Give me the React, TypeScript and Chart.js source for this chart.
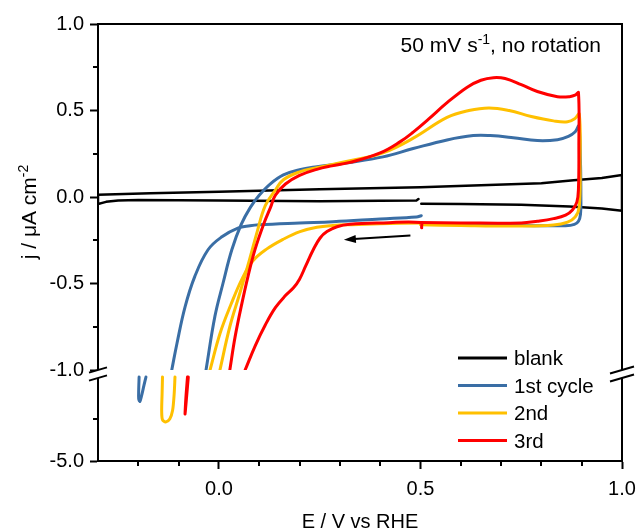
import React, { useEffect, useRef } from 'react';
import { Chart, registerables } from 'chart.js';

Chart.register(...registerables);

const FONT = "'Liberation Sans', Arial, Helvetica, sans-serif";

// Axis ranges and ticks
const xMin = -0.3;
const xMax = 1.0;
const xMajorTicks = [0.0, 0.5, 1.0];
const xTickLabels = ['0.0', '0.5', '1.0'];
const xMinorTicks = [-0.2, -0.1, 0.1, 0.2, 0.3, 0.4, 0.6, 0.7, 0.8, 0.9];

const yMin = -1.0;
const yMax = 1.0;
const yMajorTicks = [-1.0, -0.5, 0.0, 0.5, 1.0];
const yTickLabels = ['-1.0', '-0.5', '0.0', '0.5', '1.0'];
const yMinorTicks = [-0.75, -0.25, 0.25, 0.75];

// lower (broken) part of the current axis
const yLowMin = -5.0;
const yLowMax = -2.833;
const yLowMajorTicks = [-5.0];
const yLowTickLabels = ['-5.0'];
const yLowMinorTicks = [-4.0];

// blank electrode: start at 0.5 V, cathodic to -0.3 V, anodic to 1.0 V, back to 0.5 V
const blankE = [0.495, 0.49, 0.4, 0.25, 0.0, -0.2, -0.25, -0.28, -0.3, -0.3, -0.17, 0.0, 0.25, 0.5, 0.65, 0.8, 0.88, 0.95, 1.0, 1.0, 0.95, 0.87, 0.75, 0.6, 0.502];
const blankJ = [-0.012, -0.02, -0.022, -0.025, -0.02, -0.017, -0.02, -0.028, -0.04, 0.013, 0.022, 0.03, 0.045, 0.057, 0.068, 0.08, 0.097, 0.11, 0.127, -0.08, -0.067, -0.055, -0.045, -0.04, -0.039];

// 1st cycle
const c1CathE = [0.502, 0.49, 0.4, 0.283, 0.2, 0.1, 0.077, 0.047, 0.0075, -0.027, -0.06, -0.084, -0.104, -0.117];
const c1CathJ = [-0.108, -0.115, -0.127, -0.143, -0.15, -0.16, -0.166, -0.18, -0.23, -0.305, -0.46, -0.635, -0.845, -1.0];
const c1LowE = [-0.181, -0.186, -0.192, -0.196, -0.199, -0.199, -0.198];
const c1LowJ = [-3.0, -3.2, -3.45, -3.58, -3.52, -3.3, -3.0];
const c1AnodE = [-0.032, -0.01, 0.01, 0.032, 0.055, 0.078, 0.1, 0.127, 0.16, 0.2, 0.243, 0.325, 0.407, 0.482, 0.566, 0.631, 0.673, 0.73, 0.79, 0.84, 0.867, 0.884, 0.893, 0.897, 0.898, 0.897, 0.892, 0.882, 0.86, 0.75, 0.6, 0.5];
const c1AnodJ = [-1.0, -0.69, -0.5, -0.305, -0.16, -0.06, 0.01, 0.075, 0.128, 0.158, 0.175, 0.2, 0.232, 0.28, 0.33, 0.355, 0.355, 0.343, 0.326, 0.331, 0.35, 0.377, 0.41, 0.2, 0.0, -0.1, -0.14, -0.158, -0.166, -0.165, -0.16, -0.155];

// 2nd cycle
const c2CathE = [0.5, 0.4, 0.33, 0.283, 0.243, 0.201, 0.159, 0.119, 0.084, 0.058, 0.03, 0.0025, -0.022];
const c2CathJ = [-0.15, -0.155, -0.16, -0.165, -0.175, -0.2, -0.245, -0.3, -0.37, -0.47, -0.62, -0.79, -1.0];
const c2LowE = [-0.109, -0.111, -0.115, -0.122, -0.132, -0.14, -0.142, -0.141, -0.14];
const c2LowJ = [-3.0, -3.4, -3.8, -4.0, -4.07, -4.02, -3.8, -3.4, -3.0];
const c2AnodE = [0.0025, 0.027, 0.052, 0.075, 0.095, 0.115, 0.14, 0.16, 0.2, 0.243, 0.325, 0.407, 0.482, 0.566, 0.62, 0.67, 0.72, 0.775, 0.83, 0.865, 0.884, 0.894, 0.896, 0.894, 0.884, 0.865, 0.83, 0.75, 0.6, 0.5];
const c2AnodJ = [-1.0, -0.75, -0.555, -0.37, -0.2, -0.05, 0.04, 0.1, 0.145, 0.17, 0.21, 0.255, 0.34, 0.46, 0.5, 0.515, 0.5, 0.465, 0.44, 0.435, 0.455, 0.48, 0.2, -0.055, -0.115, -0.145, -0.162, -0.168, -0.165, -0.16];

// 3rd cycle
const c3CathE = [0.503, 0.501, 0.408, 0.325, 0.293, 0.268, 0.251, 0.234, 0.215, 0.2, 0.185, 0.165, 0.14, 0.115, 0.09, 0.065];
const c3CathJ = [-0.178, -0.148, -0.15, -0.158, -0.172, -0.2, -0.237, -0.305, -0.4, -0.475, -0.525, -0.57, -0.64, -0.74, -0.86, -1.0];
const c3LowE = [-0.076, -0.08, -0.084, -0.082, -0.078];
const c3LowJ = [-3.0, -3.45, -3.88, -3.5, -3.0];
const c3AnodE = [0.027, 0.04, 0.057, 0.072, 0.09, 0.112, 0.128, 0.14, 0.165, 0.2, 0.243, 0.28, 0.325, 0.4, 0.45, 0.482, 0.52, 0.566, 0.616, 0.65, 0.681, 0.71, 0.75, 0.79, 0.84, 0.87, 0.885, 0.892, 0.893, 0.892, 0.888, 0.877, 0.86, 0.83, 0.79, 0.75, 0.6, 0.5];
const c3AnodJ = [-1.0, -0.81, -0.615, -0.46, -0.3, -0.15, -0.06, 0.01, 0.075, 0.125, 0.16, 0.18, 0.2, 0.255, 0.32, 0.375, 0.45, 0.545, 0.635, 0.675, 0.69, 0.685, 0.65, 0.61, 0.58, 0.58, 0.59, 0.603, 0.3, 0.05, -0.03, -0.075, -0.105, -0.125, -0.14, -0.15, -0.15, -0.148];

// scan direction arrow (E, j)
const arrowFromE = 0.475;
const arrowFromJ = -0.222;
const arrowToE = 0.31;
const arrowToJ = -0.247;

const seriesNames = ['blank', '1st cycle', '2nd', '3rd'];
const seriesColors = ['#000000', '#3a6ea5', '#ffc000', '#ff0000'];

const pts = (e: number[], j: number[]) => e.map((v, i) => ({ x: v, y: j[i] }));

const lineSet = (data: { x: number; y: number }[], color: string, axis: string, width: number, tension: number) => ({
  data,
  yAxisID: axis,
  borderColor: color,
  backgroundColor: color,
  borderWidth: width,
  pointRadius: 0,
  showLine: true,
  fill: false,
  tension,
  borderCapStyle: 'round' as const,
  borderJoinStyle: 'round' as const,
});

const decorPlugin = {
  id: 'cvDecor',
  afterDraw(chart: any) {
    const ctx: CanvasRenderingContext2D = chart.ctx;
    const { left, right, top, bottom } = chart.chartArea;
    const xs = chart.scales.x;
    const ys = chart.scales.y;
    const yl = chart.scales.yLow;
    ctx.save();
    ctx.strokeStyle = '#000';
    ctx.fillStyle = '#000';
    ctx.lineWidth = 2;
    ctx.lineCap = 'butt';

    // frame: top and right edges
    ctx.beginPath();
    ctx.moveTo(left - 1, top);
    ctx.lineTo(right, top);
    ctx.lineTo(right, bottom + 1);
    ctx.stroke();

    // minor ticks
    ctx.beginPath();
    xMinorTicks.forEach((v) => {
      const px = Math.round(xs.getPixelForValue(v));
      ctx.moveTo(px, bottom);
      ctx.lineTo(px, bottom + 5);
    });
    yMinorTicks.forEach((v) => {
      const py = Math.round(ys.getPixelForValue(v));
      ctx.moveTo(left, py);
      ctx.lineTo(left - 5, py);
    });
    yLowMinorTicks.forEach((v) => {
      const py = Math.round(yl.getPixelForValue(v));
      ctx.moveTo(left, py);
      ctx.lineTo(left - 5, py);
    });
    ctx.stroke();

    // axis break marks on both vertical edges
    const yb = ys.bottom;
    const marks = [
      { ax: left, hw: 9 },
      { ax: right, hw: 12 },
    ];
    marks.forEach(({ ax, hw }) => {
      const dy = hw * 0.29;
      ctx.fillStyle = '#fff';
      ctx.beginPath();
      ctx.moveTo(ax - hw, yb + dy);
      ctx.lineTo(ax + hw, yb - dy);
      ctx.lineTo(ax + hw, yb - dy + 8);
      ctx.lineTo(ax - hw, yb + dy + 8);
      ctx.closePath();
      ctx.fill();
      ctx.beginPath();
      ctx.moveTo(ax - hw, yb + dy);
      ctx.lineTo(ax + hw, yb - dy);
      ctx.moveTo(ax - hw, yb + dy + 8);
      ctx.lineTo(ax + hw, yb - dy + 8);
      ctx.stroke();
    });

    // scan direction arrow
    const ax0 = xs.getPixelForValue(arrowFromE);
    const ay0 = ys.getPixelForValue(arrowFromJ);
    const ax1 = xs.getPixelForValue(arrowToE);
    const ay1 = ys.getPixelForValue(arrowToJ);
    const ang = Math.atan2(ay1 - ay0, ax1 - ax0);
    const headLen = 12;
    const headHalf = 4;
    ctx.fillStyle = '#000';
    ctx.beginPath();
    ctx.moveTo(ax0, ay0);
    ctx.lineTo(ax1 - Math.cos(ang) * (headLen - 2), ay1 - Math.sin(ang) * (headLen - 2));
    ctx.stroke();
    ctx.beginPath();
    ctx.moveTo(ax1, ay1);
    ctx.lineTo(ax1 - Math.cos(ang) * headLen - Math.sin(ang) * headHalf, ay1 - Math.sin(ang) * headLen + Math.cos(ang) * headHalf);
    ctx.lineTo(ax1 - Math.cos(ang) * headLen + Math.sin(ang) * headHalf, ay1 - Math.sin(ang) * headLen - Math.cos(ang) * headHalf);
    ctx.closePath();
    ctx.fill();

    // text with a superscript part
    const drawSup = (x: number, y: number, size: number, parts: [string, boolean][], align: 'left' | 'right' | 'center') => {
      const big = `${size}px ${FONT}`;
      const small = `${Math.round(size * 0.65)}px ${FONT}`;
      let w = 0;
      parts.forEach(([t, sup]) => {
        ctx.font = sup ? small : big;
        w += ctx.measureText(t).width;
      });
      let cx = align === 'left' ? x : align === 'right' ? x - w : x - w / 2;
      ctx.textAlign = 'left';
      ctx.textBaseline = 'alphabetic';
      parts.forEach(([t, sup]) => {
        ctx.font = sup ? small : big;
        ctx.fillText(t, cx, sup ? y - size * 0.4 : y);
        cx += ctx.measureText(t).width;
      });
    };

    ctx.fillStyle = '#000';
    drawSup(601, 52, 21, [['50 mV s', false], ['-1', true], [', no rotation', false]], 'right');

    // axis titles
    drawSup((left + right) / 2, 528, 20, [['E / V vs RHE', false]], 'center');
    ctx.save();
    ctx.translate(36, 212);
    ctx.rotate(-Math.PI / 2);
    drawSup(0, 0, 21, [['j / \u03bcA cm', false], ['-2', true]], 'center');
    ctx.restore();

    // legend
    const legX = 458;
    const legY = 358;
    const legStep = 27.5;
    seriesNames.forEach((name, i) => {
      const yy = legY + i * legStep;
      ctx.strokeStyle = seriesColors[i];
      ctx.lineWidth = 3;
      ctx.beginPath();
      ctx.moveTo(legX, yy);
      ctx.lineTo(legX + 49, yy);
      ctx.stroke();
      ctx.fillStyle = '#000';
      ctx.font = `20.5px ${FONT}`;
      ctx.textAlign = 'left';
      ctx.textBaseline = 'alphabetic';
      ctx.fillText(name, legX + 56, yy + 7);
    });
    ctx.restore();
  },
};

export default function App() {
  const ref = useRef<HTMLCanvasElement | null>(null);

  useEffect(() => {
    if (!ref.current) return;
    const datasets = [
      lineSet(pts(c3CathE, c3CathJ), seriesColors[3], 'y', 3, 0.4),
      lineSet(pts(c3LowE, c3LowJ), seriesColors[3], 'yLow', 3, 0.3),
      lineSet(pts(c3AnodE, c3AnodJ), seriesColors[3], 'y', 3, 0.4),
      lineSet(pts(c2CathE, c2CathJ), seriesColors[2], 'y', 3, 0.4),
      lineSet(pts(c2LowE, c2LowJ), seriesColors[2], 'yLow', 3, 0.3),
      lineSet(pts(c2AnodE, c2AnodJ), seriesColors[2], 'y', 3, 0.4),
      lineSet(pts(c1CathE, c1CathJ), seriesColors[1], 'y', 3, 0.4),
      lineSet(pts(c1LowE, c1LowJ), seriesColors[1], 'yLow', 3, 0.3),
      lineSet(pts(c1AnodE, c1AnodJ), seriesColors[1], 'y', 3, 0.4),
      lineSet(pts(blankE, blankJ), seriesColors[0], 'y', 2.5, 0),
    ];

    const tickFont = { family: FONT, size: 20 };
    const chart = new Chart(ref.current, {
      type: 'scatter',
      data: { datasets },
      options: {
        animation: false,
        responsive: false,
        devicePixelRatio: 1,
        layout: { padding: { left: 0, right: 16, top: 24, bottom: 0 } },
        plugins: { legend: { display: false }, tooltip: { enabled: false } },
        scales: {
          x: {
            type: 'linear',
            min: xMin,
            max: xMax,
            afterBuildTicks: (axis: any) => {
              axis.ticks = xMajorTicks.map((v) => ({ value: v }));
            },
            afterFit: (axis: any) => {
              axis.height = 70;
              axis.paddingLeft = 0;
              axis.paddingRight = 0;
            },
            ticks: {
              autoSkip: false,
              maxRotation: 0,
              padding: 8,
              color: '#000',
              font: tickFont,
              callback: (_v: any, i: number) => xTickLabels[i],
            },
            grid: { display: true, drawOnChartArea: false, drawTicks: true, tickLength: 8, tickWidth: 2, tickColor: '#000' },
            border: { display: true, color: '#000', width: 2 },
          },
          yLow: {
            type: 'linear',
            position: 'left',
            stack: 'current',
            stackWeight: 91,
            min: yLowMin,
            max: yLowMax,
            afterBuildTicks: (axis: any) => {
              axis.ticks = yLowMajorTicks.map((v) => ({ value: v }));
            },
            afterFit: (axis: any) => {
              axis.width = 98;
              axis.paddingTop = 0;
              axis.paddingBottom = 0;
            },
            ticks: {
              autoSkip: false,
              padding: 6,
              color: '#000',
              font: tickFont,
              callback: (_v: any, i: number) => yLowTickLabels[i],
            },
            grid: { display: true, drawOnChartArea: false, drawTicks: true, tickLength: 8, tickWidth: 2, tickColor: '#000' },
            border: { display: true, color: '#000', width: 2 },
          },
          y: {
            type: 'linear',
            position: 'left',
            stack: 'current',
            stackWeight: 346,
            min: yMin,
            max: yMax,
            afterBuildTicks: (axis: any) => {
              axis.ticks = yMajorTicks.map((v) => ({ value: v }));
            },
            afterFit: (axis: any) => {
              axis.width = 98;
              axis.paddingTop = 0;
              axis.paddingBottom = 0;
            },
            ticks: {
              autoSkip: false,
              padding: 6,
              color: '#000',
              font: tickFont,
              callback: (_v: any, i: number) => yTickLabels[i],
            },
            grid: { display: true, drawOnChartArea: false, drawTicks: true, tickLength: 8, tickWidth: 2, tickColor: '#000' },
            border: { display: true, color: '#000', width: 2 },
          },
        },
      } as any,
      plugins: [decorPlugin],
    });
    return () => chart.destroy();
  }, []);

  return (
    <canvas
      ref={ref}
      width={638}
      height={531}
      style={{ position: 'absolute', left: 0, top: 0, width: 638, height: 531, display: 'block', background: '#fff' }}
    />
  );
}
